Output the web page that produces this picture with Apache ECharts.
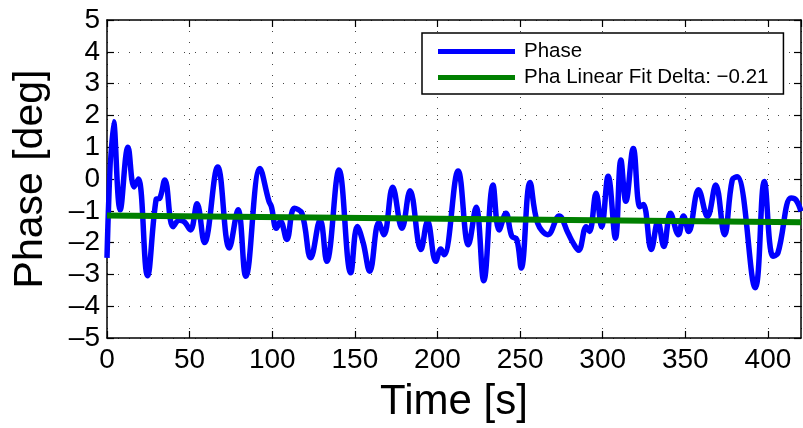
<!DOCTYPE html>
<html><head><meta charset="utf-8">
<script src="https://cdn.jsdelivr.net/npm/echarts@6/dist/echarts.min.js"></script>
<style>html,body{margin:0;padding:0;background:#fff}#c{width:803px;height:428px}</style>
</head><body><div id="c"></div>
<script>
const times = [0,4,8,12.7,16.4,19,24.5,29.7,32,35,40,43.7,46.8,50.5,54.5,59,67,74,79.3,84,92.6,98,99.5,102.5,105,108.8,113.4,118,123.3,129,133,140.4,147.5,151.5,155,159,164.5,167.6,172.9,178.5,183.4,190,194,199,202,204,212.5,218.7,223.4,228,233.6,237.3,241.4,245,248,250.7,256,260.6,266.8,273.6,279,282,285.4,290,292,296,299.3,303.3,307.7,311,314,318.5,322.5,324.6,329.4,333.4,337,341,345.8,348.9,352,358,363.4,368.4,373.7,378.4,381.4,392.3,397.8,403,406,414,417,420];
const phase = [-2.48,1.8,-0.97,1.0,-0.25,0,-3.04,-0.65,-0.6,-0.03,-1.5,-1.3,-1.35,-1.6,-0.78,-2.0,0.38,-2.17,-0.97,-3.06,0.33,-0.7,-0.87,-1.55,-1.33,-1.9,-0.92,-1.08,-2.48,-1.28,-2.59,0.28,-2.95,-1.49,-2.0,-2.9,-1.37,-1.75,-0.26,-1.55,-0.37,-2.22,-1.33,-2.59,-2.2,-2.38,0.25,-2.07,-0.89,-3.2,-0.19,-1.6,-1.08,-1.8,-1.9,-2.8,-0.11,-1.39,-1.75,-1.16,-1.7,-2.0,-2.24,-1.5,-1.65,-0.45,-1.5,0.09,-1.86,0.6,-0.7,0.96,-0.87,-0.8,-2.22,-1.34,-2.12,-1.08,-1.75,-1.16,-1.65,-0.34,-1.18,-0.19,-1.75,-0.03,0.07,-3.42,-0.08,-2.43,-2.33,-0.6,-0.66,-1.02];
const fitTimes = [0,420];
const fitValues = [-1.15,-1.36];
const seriesNames = ['Phase','Pha Linear Fit Delta: \u22120.21'];
const xMin = 0, xMax = 420, xStep = 50;
const yMin = -5, yMax = 5, yStep = 1;
const xName = 'Time [s]', yName = 'Phase [deg]';

const font = "'Liberation Sans', Arial, sans-serif";
const fmtNum = v => v < 0 ? '\u2013' + Math.abs(v) : String(v);
const chart = echarts.init(document.getElementById('c'));
const gridLine = {show:true, lineStyle:{color:'#444', width:1, type:[1,10]}};
const axLine = {show:true, onZero:false, lineStyle:{color:'#000', width:1.5}};
const tick = {show:true, inside:true, length:7, lineStyle:{color:'#000', width:1.2}};
chart.setOption({
  animation:false,
  backgroundColor:'#fff',
  grid:{left:107, right:2, top:20, bottom:89, containLabel:false},
  legend:{
    orient:'vertical', left:422, top:33,
    padding:[8,15,6,16], itemGap:5,
    backgroundColor:'#fff', borderColor:'#000', borderWidth:1.5,
    itemWidth:77, itemHeight:5, icon:'rect',
    textStyle:{fontFamily:font, fontSize:20.5, color:'#000', padding:[0,0,0,4]},
    data:[{name:seriesNames[0], itemStyle:{color:'#0000ff'}},{name:seriesNames[1], itemStyle:{color:'#008000'}}]
  },
  xAxis:[{
    type:'value', min:xMin, max:xMax, interval:xStep, position:'bottom',
    name:xName, nameLocation:'middle', nameGap:43,
    nameTextStyle:{fontFamily:font, fontSize:42, color:'#000'},
    axisLine:axLine, axisTick:tick, splitLine:gridLine,
    axisLabel:{fontFamily:font, fontSize:28, color:'#000', margin:8, showMaxLabel:false, formatter:fmtNum}
  },{
    type:'value', min:xMin, max:xMax, interval:xStep, position:'top',
    axisLine:axLine, axisTick:tick, splitLine:{show:false}, axisLabel:{show:false}
  }],
  yAxis:[{
    type:'value', min:yMin, max:yMax, interval:yStep, position:'left',
    name:yName, nameLocation:'middle', nameGap:56, nameRotate:90,
    nameTextStyle:{fontFamily:font, fontSize:41, color:'#000'},
    axisLine:axLine, axisTick:tick, splitLine:gridLine,
    axisLabel:{fontFamily:font, fontSize:28, color:'#000', margin:7, formatter:fmtNum}
  },{
    type:'value', min:yMin, max:yMax, interval:yStep, position:'right',
    axisLine:axLine, axisTick:tick, splitLine:{show:false}, axisLabel:{show:false}
  }],
  series:[{
    name:seriesNames[0], type:'line', smooth:0.4, showSymbol:false,
    lineStyle:{color:'#0000ff', width:5.5}, itemStyle:{color:'#0000ff'},
    data: times.map((t,i)=>[t, phase[i]]), z:2
  },{
    name:seriesNames[1], type:'line', showSymbol:false,
    lineStyle:{color:'#008000', width:6}, itemStyle:{color:'#008000'},
    data: fitTimes.map((t,i)=>[t, fitValues[i]]), z:3
  }]
});
</script></body></html>
